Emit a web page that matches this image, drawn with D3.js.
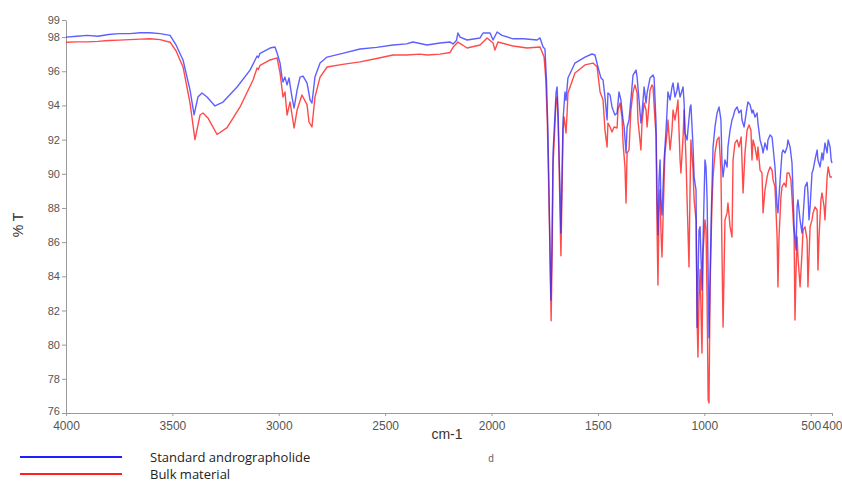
<!DOCTYPE html>
<html>
<head>
<meta charset="utf-8">
<script src="https://cdn.jsdelivr.net/npm/d3@7/dist/d3.min.js"></script>
<style>
  html, body { margin: 0; padding: 0; background: #fff; }
  svg { display: block; }
</style>
</head>
<body>
<svg id="chart" width="842" height="484"></svg>
<script>
// ---- data (wavenumber cm-1, %T) ----
const xTicks = [4000, 3500, 3000, 2500, 2000, 1500, 1000, 500, 400];
const yTicks = [76, 78, 80, 82, 84, 86, 88, 90, 92, 94, 96, 98, 99];
const seriesNames = ["Standard andrographolide", "Bulk material"];

const standardWn = [4000,3950,3900,3850,3800,3750,3700,3650,3605,3558,3511,3483,3450,3417,3398,3380,3361,3337,3300,3262,3196,3135,3102,3096,3088,3041,3018,3008,2994,2985,2980,2971,2961,2952,2938,2928,2914,2900,2886,2867,2853,2844,2830,2806,2773,2700,2618,2540,2463,2400,2369,2303,2242,2195,2181,2165,2158,2148,2115,2054,2040,2007,1993,1974,1951,1899,1850,1786,1772,1758,1749,1742,1735,1728,1721,1716,1711,1697,1692,1687,1683,1678,1674,1668,1664,1655,1650,1641,1608,1561,1528,1514,1500,1486,1476,1467,1457,1453,1443,1434,1429,1420,1410,1401,1392,1382,1377,1368,1363,1354,1340,1335,1321,1316,1307,1298,1293,1283,1274,1269,1255,1241,1236,1227,1222,1218,1213,1208,1204,1199,1189,1180,1175,1171,1161,1152,1147,1138,1128,1124,1114,1100,1095,1091,1081,1077,1067,1063,1053,1048,1039,1034,1025,1020,1011,1006,997,992,987,978,968,964,959,950,940,931,922,917,912,903,893,889,879,870,865,856,846,837,827,823,813,799,795,785,776,771,762,752,748,738,729,724,715,705,701,691,682,677,668,658,654,644,635,630,621,611,607,597,588,583,578,569,564,560,550,541,536,527,517,513,508,503,494,489,480,470,466,456,447,442,433,423,418,409,404,400];
const standardT = [98.0,98.05,98.1,98.05,98.15,98.2,98.2,98.25,98.25,98.2,98.1,97.54,96.66,94.9,93.45,94.49,94.73,94.49,93.97,94.2,95.08,96.07,96.89,96.8,97.05,97.36,97.42,97.07,96.48,95.66,95.37,95.66,95.2,95.61,94.49,93.85,94.9,95.66,95.72,95.31,94.32,94.14,95.66,96.48,96.83,97.05,97.3,97.4,97.54,97.6,97.71,97.54,97.65,97.71,97.6,97.8,98.24,98.0,97.83,97.95,98.24,98.24,97.83,98.3,98.1,97.9,97.9,97.83,97.95,97.42,97.3,95.5,92.5,87.5,82.6,86.0,91.22,94.73,95.08,93.5,91.22,89.0,86.53,90.5,93.15,94.79,94.3,95.61,96.48,96.83,97.01,96.95,96.25,95.61,95.49,94.49,93.15,94.73,94.61,93.91,93.73,93.44,93.56,94.79,94.32,93.15,92.74,91.22,92.74,93.15,95.08,95.78,96.07,95.66,94.32,92.97,93.56,95.08,94.14,94.73,95.61,95.78,95.61,92.97,88.47,86.42,89.64,90.81,88.47,87.59,90.81,92.56,93.73,94.79,94.32,95.08,95.31,94.49,94.9,95.31,94.49,95.08,94.14,92.39,91.98,92.56,93.91,94.03,91.57,89.81,89.05,81.0,86.7,86.9,83.2,86.1,90.81,90.4,88.5,80.4,87.3,89.23,91.57,92.74,93.56,93.91,93.15,90.63,89.81,90.81,90.4,91.57,92.56,93.15,93.32,93.73,93.91,93.56,93.73,93.15,92.74,93.91,94.2,94.03,93.56,93.73,93.32,93.56,92.97,91.98,91.57,91.22,91.8,91.4,91.98,92.27,92.15,91.57,90.4,88.06,87.71,89.64,91.22,91.39,91.22,91.57,91.98,91.57,90.63,88.88,86.89,85.54,88.06,88.47,87.3,86.53,87.47,89.23,89.5,88.88,87.3,88.06,90.05,90.22,90.81,91.39,90.81,90.4,91.22,90.81,91.8,91.22,91.98,91.57,90.81,90.63];

const bulkWn = [4000,3950,3900,3850,3800,3750,3700,3650,3605,3558,3511,3483,3450,3417,3394,3370,3356,3333,3290,3243,3182,3121,3102,3096,3088,3041,3008,2994,2980,2971,2961,2947,2928,2914,2891,2867,2858,2844,2830,2806,2773,2700,2618,2540,2463,2400,2336,2303,2242,2195,2181,2158,2115,2054,2021,1993,1984,1970,1899,1833,1772,1753,1745,1738,1731,1725,1720,1715,1711,1697,1692,1687,1683,1678,1674,1668,1664,1659,1650,1645,1641,1608,1561,1523,1504,1490,1481,1476,1467,1457,1453,1443,1434,1424,1410,1406,1396,1387,1382,1373,1368,1363,1354,1345,1335,1326,1316,1312,1298,1293,1283,1274,1269,1265,1255,1246,1241,1232,1227,1222,1218,1213,1208,1204,1199,1189,1185,1175,1171,1161,1152,1147,1138,1128,1124,1114,1110,1100,1095,1086,1081,1072,1067,1063,1053,1048,1039,1034,1030,1025,1020,1011,1006,997,992,987,982,978,973,964,959,950,940,931,922,917,912,903,893,889,879,870,865,856,846,837,827,823,818,809,799,790,781,776,771,762,752,748,738,729,724,715,705,701,691,682,677,668,658,654,649,640,635,625,616,611,602,593,588,578,574,569,564,560,550,541,536,527,517,513,503,494,489,480,470,466,461,452,447,437,433,423,418,409,400];
const bulkT = [97.7,97.72,97.72,97.75,97.8,97.82,97.85,97.88,97.9,97.85,97.7,97.2,96.25,94.14,92.0,93.44,93.56,93.27,92.3,92.7,93.91,95.49,96.19,96.1,96.35,96.66,96.78,95.9,94.49,94.79,93.44,94.2,92.68,93.73,94.61,94.03,93.03,92.74,94.49,95.66,96.25,96.4,96.55,96.75,96.95,96.95,97.0,96.95,97.0,97.1,97.4,97.71,97.36,97.54,97.95,97.65,97.24,97.71,97.48,97.36,97.42,96.83,95.5,93.0,89.0,85.0,81.4,85.5,90.5,94.2,94.5,93.0,90.8,87.5,85.2,89.5,92.56,93.32,92.39,93.56,94.73,95.9,96.37,96.48,96.25,94.79,94.49,94.32,92.56,91.57,92.97,92.74,92.45,92.74,92.68,93.73,94.14,93.32,91.8,90.4,88.29,91.22,91.39,93.73,94.79,95.2,94.73,93.15,91.39,92.97,94.14,93.73,92.74,93.32,94.9,95.2,95.08,93.15,92.27,86.71,83.49,87.88,89.05,86.71,85.13,89.64,91.22,92.39,93.15,91.39,92.56,93.73,93.15,93.91,94.32,90.81,90.05,92.15,93.73,90.81,88.47,84.55,89.23,91.98,90.22,88.47,87.3,81.44,79.28,82.6,84.4,79.51,85.36,87.3,86.7,82.6,76.76,76.59,83.38,88.29,89.81,91.22,91.98,92.15,90.22,85.36,81.03,87.3,87.71,88.29,86.89,86.3,90.81,91.8,91.98,91.57,92.15,90.81,88.88,91.22,92.56,92.86,92.56,90.81,91.98,91.57,90.81,91.57,90.22,90.05,87.71,89.05,89.81,90.05,90.4,90.22,89.64,89.23,86.3,83.38,86.3,88.64,89.23,89.46,89.23,90.05,90.05,89.64,88.64,86.3,81.44,84.37,86.3,85.13,83.38,85.36,86.71,86.89,86.13,83.38,86.89,87.3,87.71,88.06,87.88,84.37,86.3,88.47,88.88,88.06,87.3,89.81,90.4,89.81,89.81];

if (standardWn.length !== standardT.length || bulkWn.length !== bulkT.length) {
  throw new Error("length mismatch std " + standardWn.length + "/" + standardT.length + " bulk " + bulkWn.length + "/" + bulkT.length);
}

// ---- layout ----
const svg = d3.select("#chart");
const mLeft = 66, mRight = 832, mTop = 20, mBottom = 413;
const x = d3.scaleLinear().domain([4000, 400]).range([mLeft, mRight]);
const y = d3.scaleLinear().domain([76, 99]).range([mBottom, mTop]);

const axisColor = "#9a9a9a";
const tickText = "#555";

// y axis
const gy = svg.append("g").attr("transform", `translate(${mLeft},0)`)
  .call(d3.axisLeft(y).tickValues(yTicks).tickSize(4).tickSizeOuter(0).tickPadding(2).tickFormat(d3.format("d")));
gy.select(".domain").attr("stroke", axisColor);
gy.selectAll(".tick line").attr("stroke", axisColor);
gy.selectAll(".tick text").attr("fill", tickText).style("font", "11px 'Liberation Sans', Arial, sans-serif");
// lowest label sits slightly above its tick, as in the reference
gy.selectAll(".tick text").filter(d => d === 76).attr("dy", "0.1em");

// x axis
const gx = svg.append("g").attr("transform", `translate(0,${mBottom})`)
  .call(d3.axisBottom(x).tickValues(xTicks).tickSize(3).tickSizeOuter(0).tickPadding(5).tickFormat(d3.format("d")));
gx.select(".domain").attr("stroke", axisColor);
gx.selectAll(".tick line").attr("stroke", axisColor);
gx.selectAll(".tick text").attr("fill", tickText).style("font", "12px 'Liberation Sans', Arial, sans-serif");

// lines
const line = d3.line().x(d => x(d[0])).y(d => y(d[1]));
const bulk = bulkWn.map((w, i) => [w, bulkT[i]]);
const standard = standardWn.map((w, i) => [w, standardT[i]]);

svg.append("path").datum(bulk).attr("d", line)
  .attr("fill", "none").attr("stroke", "#ff2a2a").attr("stroke-width", 1.4)
  .attr("stroke-opacity", 0.85).attr("stroke-linejoin", "round");
svg.append("path").datum(standard).attr("d", line)
  .attr("fill", "none").attr("stroke", "#2a2aff").attr("stroke-width", 1.4)
  .attr("stroke-opacity", 0.75).attr("stroke-linejoin", "round");

// axis titles
svg.append("text").attr("transform", "translate(23,225) rotate(-90)")
  .attr("text-anchor", "middle").attr("fill", "#333")
  .style("font", "14px 'Liberation Sans', Arial, sans-serif").text("% T");
svg.append("text").attr("x", 447).attr("y", 439).attr("text-anchor", "middle")
  .attr("fill", "#333").style("font", "14px 'Liberation Sans', Arial, sans-serif").text("cm-1");
svg.append("text").attr("x", 491).attr("y", 462).attr("text-anchor", "middle")
  .attr("fill", "#666").style("font", "10px 'Liberation Sans', Arial, sans-serif").text("d");

// legend
const legendColors = ["#2020ff", "#ff2020"];
const legY = [457, 474];
seriesNames.forEach((name, i) => {
  svg.append("line").attr("x1", 20).attr("x2", 122).attr("y1", legY[i]).attr("y2", legY[i])
    .attr("stroke", legendColors[i]).attr("stroke-width", 2);
  svg.append("text").attr("x", 150).attr("y", legY[i] + 5)
    .attr("fill", "#222").style("font", "13px 'Open Sans', sans-serif").text(name);
});
</script>
</body>
</html>
